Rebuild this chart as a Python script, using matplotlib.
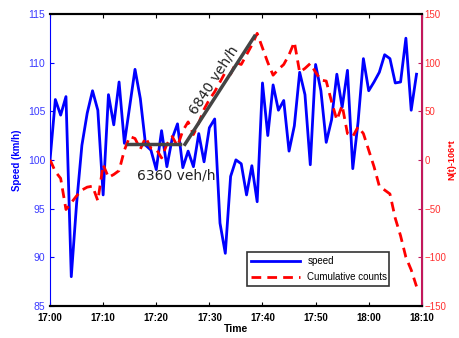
import numpy as np
import matplotlib
matplotlib.use("Agg")
import matplotlib.pyplot as plt

plt.rcParams['font.family'] = ['Liberation Sans', 'DejaVu Sans']

# minutes after 17:00
minutes = list(range(70))
speed = [100.0, 106.2, 104.6, 106.5, 88.0, 95.5, 101.5, 104.8, 107.1, 105.1,
         96.4, 106.7, 103.6, 108.0, 101.7, 105.5, 109.3, 106.3, 101.5, 101.0,
         99.0, 103.0, 99.3, 102.2, 103.7, 99.2, 100.9, 99.3, 102.7, 99.8,
         103.3, 104.2, 93.5, 90.4, 98.3, 100.0, 99.6, 96.4, 99.4, 95.7,
         107.9, 102.5, 107.7, 105.1, 106.1, 100.9, 103.5, 109.0, 106.7, 99.5,
         109.8, 107.1, 101.8, 104.1, 108.8, 105.4, 109.2, 99.1, 103.9, 110.4,
         107.1, 108.0, 109.0, 110.8, 110.4, 107.9, 108.0, 112.5, 105.1, 108.8]
counts = [0, -12, -19, -51, -44, -37, -31, -28, -27, -42,
          -5, -18, -15, -11, 10, 24, 22, 11, 23, 12,
          11, 2, 16, 24, 14, 30, 39, 26, 38, 52,
          62, 70, 80, 90, 88, 100, 98, 108, 118, 130,
          115, 100, 87, 93, 98, 108, 121, 90, 94, 99,
          90, 82, 81, 60, 41, 56, 27, 24, 34, 27,
          10, -7, -27, -31, -35, -60, -78, -100, -113, -130]

xticks = [0, 10, 20, 30, 40, 50, 60, 70]
xticklabels = ['17:00', '17:10', '17:20', '17:30', '17:40', '17:50', '18:00', '18:10']

# flow reference lines (in N(t)-106*t units)
flat_t = [14.7, 24.4]
flat_n = [16, 16]
steep_t = [25.4, 38.5]
steep_n = [16, 127]

fig = plt.figure(figsize=(4.59, 3.38), dpi=100)
ax = fig.add_axes([0.109, 0.095, 0.810, 0.864])
ax2 = ax.twinx()

l1, = ax.plot(minutes, speed, color='#0000ff', lw=2.0, label='speed')
l2, = ax2.plot(minutes, counts, color='#ff0000', lw=2.0, ls=(0, (3.5, 2.2)),
               label='Cumulative counts')
ax2.plot(flat_t, flat_n, color='#444444', lw=2.5)
ax2.plot(steep_t, steep_n, color='#444444', lw=2.5)

ax.set_xlim(0, 70)
ax.set_ylim(85, 115)
ax2.set_ylim(-150, 150)
ax.set_xticks(xticks)
ax.set_xticklabels(xticklabels, fontsize=7, fontweight='bold')
ax.set_yticks([85, 90, 95, 100, 105, 110, 115])
ax2.set_yticks([-150, -100, -50, 0, 50, 100, 150])

ax.tick_params(axis='x', direction='in', top=True, length=3, pad=5, colors='black')
ax.tick_params(axis='y', direction='in', length=3, labelsize=7.5, colors='#0000ff',
               labelcolor='#3a3aff')
ax2.tick_params(axis='y', direction='in', length=3, labelsize=7, colors='#c2185b',
                labelcolor='#ff3030', pad=2)

ax.spines['left'].set_color('#0000ff')
ax2.spines['left'].set_visible(False)
ax2.spines['right'].set_color('#c2185b')
ax2.spines['right'].set_linewidth(1.5)
for s in ['top', 'bottom']:
    ax.spines[s].set_linewidth(1.5)
    ax2.spines[s].set_linewidth(1.5)

ax.set_xlabel('Time', fontsize=7.5, fontweight='bold', labelpad=1)
ax.set_ylabel('Speed (km/h)', fontsize=7, fontweight='bold', color='#0000ff', labelpad=4)
ax2.set_ylabel('N(t)-106*t', fontsize=6.5, fontweight='bold', color='#ff0000', labelpad=1)

ax2.text(16.4, -16, '6360 veh/h', fontsize=10, color='#222222', family='DejaVu Sans',
         ha='left', va='center')
ax2.text(30.8, 82, '6840 veh/h', fontsize=10, color='#222222', family='DejaVu Sans',
         ha='center', va='center', rotation=57)

leg = ax2.legend([l1, l2], ['speed', 'Cumulative counts'], loc='lower left',
                 bbox_to_anchor=(0.53, 0.068, 0.382, 0.123), mode='expand',
                 borderaxespad=0, fontsize=7, frameon=True, fancybox=False,
                 edgecolor='black', handlelength=5, borderpad=0.4, labelspacing=0.6)
leg.get_frame().set_linewidth(1.2)

fig.savefig('out.png', dpi=100)
